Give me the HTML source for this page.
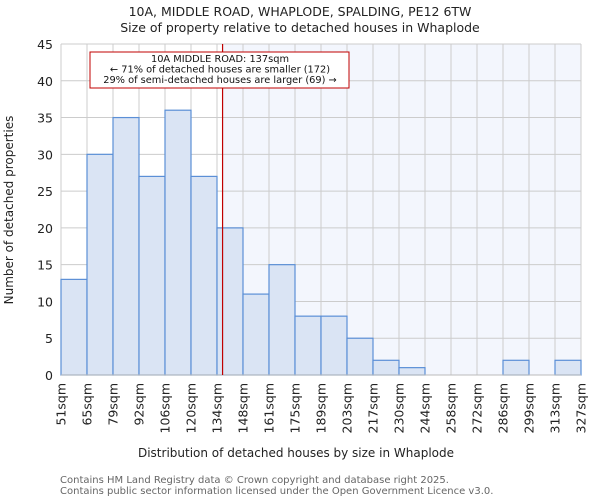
<!DOCTYPE html>
<html><head><meta charset="utf-8"><style>
body{margin:0;background:#fff;font-family:"DejaVu Sans","Liberation Sans",sans-serif}
svg text{font-family:"DejaVu Sans","Liberation Sans",sans-serif}
</style></head><body>
<svg id="c" width="600" height="500" xmlns="http://www.w3.org/2000/svg">
<text x="300" y="16" text-anchor="middle" font-size="12.5" fill="#222">10A, MIDDLE ROAD, WHAPLODE, SPALDING, PE12 6TW</text>
<text x="300" y="32" text-anchor="middle" font-size="12.5" fill="#222">Size of property relative to detached houses in Whaplode</text>
<g id="plot"></g>
<text x="296" y="457" text-anchor="middle" font-size="12" fill="#222">Distribution of detached houses by size in Whaplode</text>
<text transform="translate(13,210) rotate(-90)" text-anchor="middle" font-size="12" fill="#222">Number of detached properties</text>
<text x="60" y="483" font-size="10" fill="#666">Contains HM Land Registry data © Crown copyright and database right 2025.</text>
<text x="60" y="494" font-size="10" fill="#666">Contains public sector information licensed under the Open Government Licence v3.0.</text>
</svg>
<script>
const edges=[51,65,79,92,106,120,134,148,161,175,189,203,217,230,244,258,272,286,299,313,327];
const counts=[13,30,35,27,36,27,20,11,15,8,8,5,2,1,0,0,0,2,0,2];
const yTicks=[0,5,10,15,20,25,30,35,40,45];
const subjectSize=137;
const X0=61,X1=581,Y0=375,Y1=44;
const NS="http://www.w3.org/2000/svg";
const xs=i=>X0+i*(X1-X0)/(edges.length-1);
const xv=v=>{for(let i=0;i<edges.length-1;i++){if(v<=edges[i+1])return xs(i)+(v-edges[i])/(edges[i+1]-edges[i])*(xs(i+1)-xs(i));}return X1;};
const y=v=>Y0-(v/45)*(Y0-Y1);
const g=document.getElementById('plot');
function mk(t,a){const e=document.createElementNS(NS,t);for(const k in a)e.setAttribute(k,a[k]);g.appendChild(e);return e;}
const sx=xv(subjectSize);
let e;
e=mk('rect',{x:X0,y:Y1,width:X1-X0,height:Y0-Y1,fill:'#ffffff'});


e=mk('rect',{x:sx,y:Y1,width:X1-sx,height:Y0-Y1,fill:'#f3f6fd'});


yTicks.forEach(t=>{
 e=mk('line',{x1:X0,x2:X1,y1:y(t),y2:y(t),stroke:'#cccccc','stroke-width':1});
 
 
 e=mk('text',{x:X0-8,y:y(t)+5,'text-anchor':'end','font-size':12.5,fill:'#222'});
 e.textContent=t;
 
 
});
edges.forEach((v,i)=>{
 e=mk('line',{x1:xs(i),x2:xs(i),y1:Y1,y2:Y0,stroke:'#cccccc','stroke-width':1});
 
 
 e=mk('text',{transform:`translate(${xs(i)+4.5},${Y0+8}) rotate(-90)`,'text-anchor':'end','font-size':12.5,fill:'#222'});
 e.textContent=v+'sqm';
 
 
});
counts.forEach((c,i)=>{
 if(c<=0)return;
 e=mk('rect',{x:xs(i),y:y(c),width:xs(i+1)-xs(i),height:Y0-y(c),fill:'#dae4f4',stroke:'#5b8fd6','stroke-width':1.2});
 
 
});
e=mk('line',{x1:X0,x2:X1,y1:Y0,y2:Y0,stroke:'#bbbbbb','stroke-width':1});


e=mk('line',{x1:sx,x2:sx,y1:Y1,y2:Y0,stroke:'#c00000','stroke-width':1.2});


e=mk('rect',{x:90,y:52,width:259,height:36,fill:'#fff',stroke:'#c00000','stroke-width':1});


['10A MIDDLE ROAD: 137sqm','← 71% of detached houses are smaller (172)','29% of semi-detached houses are larger (69) →'].forEach((t,i)=>{
 e=mk('text',{x:220,y:62+i*10.5,'text-anchor':'middle','font-size':9.8,fill:'#111'});
 e.textContent=t;
 
 
});
</script>
</body></html>
